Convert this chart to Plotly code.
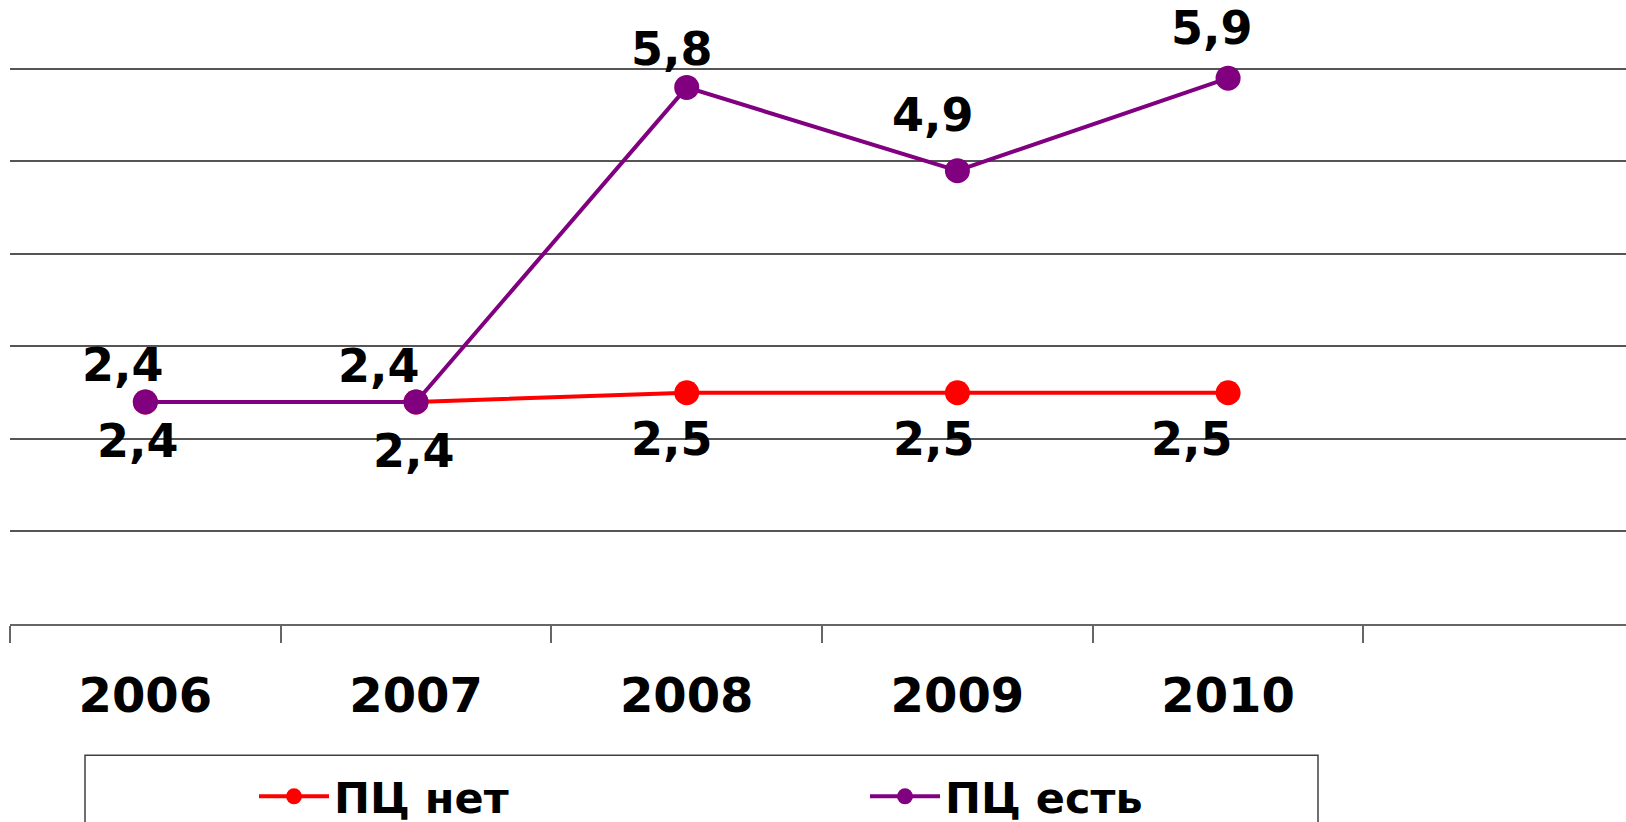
import plotly.graph_objects as go

# Chart data
years = ["2006", "2007", "2008", "2009", "2010"]
pc_net = [2.4, 2.4, 2.5, 2.5, 2.5]      # ПЦ нет
pc_est = [2.4, 2.4, 5.8, 4.9, 5.9]      # ПЦ есть
label_net = ["2,4", "2,4", "2,5", "2,5", "2,5"]
label_est = ["2,4", "2,4", "5,8", "4,9", "5,9"]

# Label offsets (pixels) relative to each marker
net_dx = [-7, -2, -15, -23, -36]
net_dy = [-39, -49, -46, -46, -46]
est_dx = [-22, -37, -15, -24, -16]
est_dy = [37, 36, 38, 56, 50]

FONT = "DejaVu Sans"
RED = "#FF0000"
PURPLE = "#800080"

xs = list(range(len(years)))

fig = go.Figure()
fig.add_trace(go.Scatter(
    x=xs, y=pc_net, name="ПЦ нет", mode="lines+markers",
    line=dict(color=RED, width=4),
    marker=dict(color=RED, size=25),
))
fig.add_trace(go.Scatter(
    x=xs, y=pc_est, name="ПЦ есть", mode="lines+markers",
    line=dict(color=PURPLE, width=4),
    marker=dict(color=PURPLE, size=25),
))

annotations = []
for i, (v, t) in enumerate(zip(pc_net, label_net)):
    annotations.append(dict(x=xs[i], y=v, xref="x", yref="y", text=t,
                            showarrow=False, xanchor="center", yanchor="middle",
                            xshift=net_dx[i], yshift=net_dy[i],
                            font=dict(family=FONT, size=46, color="black", weight="bold")))
for i, (v, t) in enumerate(zip(pc_est, label_est)):
    annotations.append(dict(x=xs[i], y=v, xref="x", yref="y", text=t,
                            showarrow=False, xanchor="center", yanchor="middle",
                            xshift=est_dx[i], yshift=est_dy[i],
                            font=dict(family=FONT, size=46, color="black", weight="bold")))

# Legend frame
legend_frame = dict(type="rect", xref="paper", yref="paper",
                    x0=(85 - 10) / 1616, x1=(1318 - 10) / 1616,
                    y0=-0.40, y1=1 - 755 / 623.7,
                    line=dict(color="#404040", width=1.5), fillcolor="rgba(0,0,0,0)",
                    layer="above")

fig.update_layout(
    width=1626, height=822,
    margin=dict(l=10, r=0, t=0, b=198, autoexpand=False),
    paper_bgcolor="white", plot_bgcolor="white",
    showlegend=True,
    legend=dict(orientation="h", x=(254 - 10) / 1616, xanchor="left",
                y=1 - 796 / 623.7, yanchor="middle",
                font=dict(family=FONT, size=43, color="black", weight="bold"),
                itemwidth=70, entrywidth=526, entrywidthmode="pixels",
                bgcolor="rgba(0,0,0,0)", borderwidth=0),
    xaxis=dict(
        range=[-0.5, 5.47], tickvals=xs, ticktext=years,
        ticks="", showgrid=False, zeroline=False,
        showline=True, linecolor="#666666", linewidth=2,
        tickfont=dict(family=FONT, size=48, color="black", weight="bold"),
        ticklabelstandoff=28,
        minor=dict(tickvals=[i - 0.5 for i in range(7)], ticks="outside",
                   ticklen=17, tickwidth=2, tickcolor="#666666", showgrid=False),
    ),
    yaxis=dict(
        range=[0, 6.745], dtick=1, tick0=0, showticklabels=False, ticks="",
        showgrid=True, gridcolor="#555555", gridwidth=1.5, zeroline=False,
        showline=False,
    ),
    annotations=annotations,
    shapes=[legend_frame],
)

fig.write_html("out.html")
